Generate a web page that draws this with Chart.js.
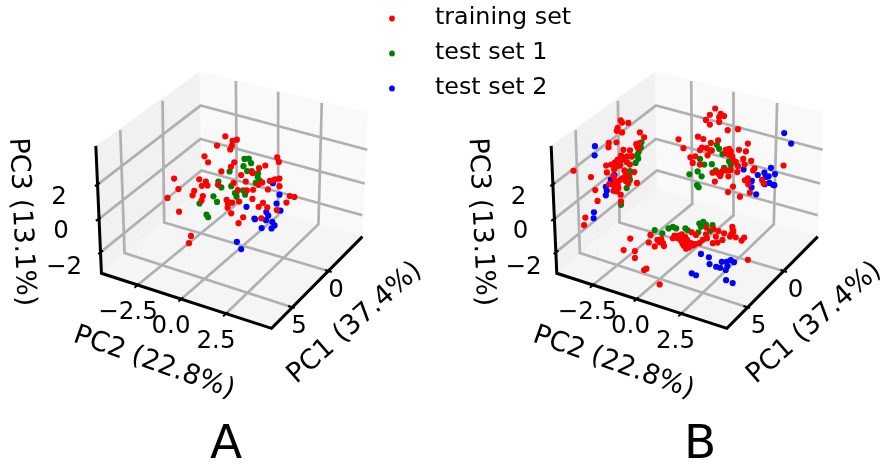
<!DOCTYPE html>
<html><head><meta charset="utf-8">
<style>html,body{margin:0;padding:0;background:#fff}canvas{display:block;filter:blur(0.5px)}</style>
<script src="https://cdn.jsdelivr.net/npm/chart.js@4"></script></head>
<body><canvas id="c" width="884" height="466"></canvas>
<script>
const seriesNames = ['training set','test set 1','test set 2'];
const seriesColors = ['#ff0000','#008000','#0000ff'];
const panelLabels = ['A','B'];
const panelLabelX = [226,700];
const tickLabelsZ = ['2','0','\u22122'];
const tickLabelsY = ['\u22122.5','0.0','2.5'];
const tickLabelsX = ['0','5'];
const axisNames = ['PC1 (37.4%)','PC2 (22.8%)','PC3 (13.1%)'];

// Panel A, crop origin (140,120)
const aTrain = [[250,44],[285,54],[272,58],[225,72],[270,72],[265,84],[187,105],[198,123],[277,123],[267,137],[238,151],[407,108],[412,122],[371,133],[352,141],[329,152],[333,156],[298,162],[95,173],[171,175],[191,182],[196,194],[179,195],[108,205],[156,210],[151,224],[75,232],[182,226],[178,240],[110,274],[228,192],[275,186],[312,182],[414,173],[401,175],[385,180],[395,178],[350,192],[362,185],[414,196],[379,206],[334,207],[315,209],[288,208],[332,235],[292,243],[271,246],[254,238],[258,250],[257,262],[268,279],[304,291],[290,309],[364,247],[351,259],[377,261],[406,269],[435,246],[445,226],[459,229],[359,294],[146,348],[140,370],[263,247]];
const aTest1 = [[308,113],[321,112],[328,126],[305,135],[316,150],[330,150],[349,157],[348,168],[355,180],[342,186],[263,151],[229,182],[238,200],[268,196],[214,227],[225,244],[172,249],[193,283],[198,291],[283,218],[279,217],[304,209],[310,222],[284,228]];
const aTest2 = [[394,187],[414,222],[405,249],[314,259],[417,271],[374,275],[380,286],[338,295],[340,297],[373,300],[392,305],[399,316],[390,325],[360,324],[285,366],[298,388]];

// Panel B left wall, crop origin (550,100)
const bLeftTrain = [[217,55],[221,62],[240,63],[208,78],[205,87],[221,92],[275,92],[288,107],[181,124],[204,122],[180,137],[272,125],[267,135],[245,147],[225,145],[74,209],[127,228],[218,163],[236,165],[250,165],[173,193],[200,183],[218,178],[236,183],[245,190],[215,193],[197,205],[175,214],[228,208],[258,213],[195,225],[232,222],[232,240],[266,246],[213,238],[205,245],[182,250],[240,248],[200,260],[195,270],[210,262],[140,268],[217,282],[147,301],[218,303],[110,352],[106,375],[208,175],[226,172],[188,190],[205,195],[240,228],[222,232],[200,240],[208,252],[196,252],[204,272],[270,140],[264,128]];
const bLeftTest1 = [[280,122],[278,138],[272,150],[252,165],[268,160],[262,185],[270,172],[245,210],[243,225],[245,237],[235,262],[218,313]];
const bLeftTest2 = [[139,134],[138,162],[198,222],[187,236],[190,250],[172,258],[175,270],[172,284],[136,336],[135,354]];

// Panel B right wall, crop origin (670,90)
const bRightTrain = [[143,49],[127,68],[160,65],[155,75],[170,72],[115,84],[127,98],[155,90],[181,115],[212,112],[32,143],[47,170],[91,135],[107,142],[152,146],[130,154],[242,156],[103,168],[97,176],[117,170],[133,177],[215,175],[236,180],[175,175],[185,172],[185,190],[195,195],[120,192],[68,198],[83,195],[75,215],[97,220],[205,212],[228,203],[252,209],[232,220],[212,225],[262,232],[258,238],[210,243],[190,237],[178,238],[165,240],[150,245],[135,245],[142,272],[158,255],[183,256],[242,262],[233,268],[285,267],[290,278],[243,280],[197,287],[248,306],[182,304],[218,318],[350,223],[190,180],[176,186],[198,208],[160,248],[170,236]];
const bRightTest1 = [[148,160],[155,172],[165,188],[128,177],[97,203],[110,220],[133,219],[65,250],[90,241],[102,256],[88,283],[93,289],[145,238],[170,230],[185,210],[190,222]];
const bRightTest2 = [[352,124],[373,156],[312,230],[229,235],[292,245],[324,249],[272,252],[296,258],[305,256],[254,270],[253,290],[293,280],[307,276],[318,282],[267,311],[322,283]];

// Panel B floor, crop origin (610,205)
const bFloorTrain = [[66,101],[46,136],[80,139],[80,160],[127,90],[122,113],[140,125],[148,105],[160,103],[165,115],[168,124],[195,100],[200,92],[212,92],[222,88],[252,82],[225,100],[230,113],[228,123],[235,132],[242,125],[238,105],[250,115],[262,118],[275,115],[285,105],[298,100],[265,90],[295,88],[297,68],[318,72],[333,78],[350,85],[325,95],[345,105],[330,113],[316,115],[375,65],[378,80],[368,95],[385,97],[403,107],[411,98],[422,166],[115,193],[108,197],[155,241],[220,108],[232,96],[244,128],[236,118],[224,116],[256,122],[210,100],[372,88],[376,74],[155,112]];
const bFloorTest1 = [[140,75],[163,85],[182,70],[195,65],[205,70],[233,70],[240,76],[272,82],[275,55],[287,50],[295,58],[280,65],[315,60],[307,78]];
const bFloorTest2 = [[280,148],[304,158],[306,179],[343,172],[358,172],[370,167],[380,173],[326,187],[338,190],[360,185],[355,197],[252,207],[265,213],[356,228],[376,237]];

// Box of the 3D axes, crop origin (80,60) for A, (539.5,60) for B
const paneLeft = [[38,253],[352,27],[358,385],[55,642]];
const paneRight = [[352,27],[862,150],[845,530],[358,385]];
const paneFloor = [[55,642],[358,385],[845,530],[570,810]];
const gridPaths = [
 [[42,372],[355,130],[860,265]],[[45,478],[355,232],[852,368]],[[52,578],[358,328],[845,465]],
 [[112,205],[125,580],[630,745]],[[240,115],[245,487],[742,635]],
 [[462,55],[465,430],[162,680]],[[590,88],[590,465],[295,722]],[[722,122],[712,492],[430,767]]];
const axisPath = [[38,253],[55,642],[570,810],[845,530]];
const tickPaths = [
 [[35,376],[50,366]],[[38,482],[53,472]],[[45,583],[60,573]],
 [[155,686],[170,674]],[[288,728],[303,716]],[[423,773],[438,761]],
 [[732,632],[752,638]],[[620,742],[640,748]]];

const at = (pts,ox,oy)=>pts.map(p=>({x:p[0]+3*ox,y:p[1]+3*oy}));
const pathsAt = (paths,ox,oy)=>{const out=[];paths.forEach(p=>{out.push(...at(p,ox,oy));out.push({x:NaN,y:NaN});});return out;};
const shape = {showLine:true,pointRadius:0,borderWidth:0,tension:0};
const datasets=[];
[[80,60],[539.5,60]].forEach(([ox,oy])=>{
  [[paneLeft,'#f1f1f1'],[paneRight,'#f9f9f9'],[paneFloor,'#f5f5f5']].forEach(([p,col])=>{
    datasets.push({...shape,data:at([...p,p[0]],ox,oy),backgroundColor:col,borderColor:col,fill:'shape',order:40});
  });
  datasets.push({...shape,data:pathsAt(gridPaths,ox,oy),borderColor:'#b0b0b0',borderWidth:2.7,order:30,spanGaps:false,fill:false});
  datasets.push({...shape,data:at(axisPath,ox,oy),borderColor:'#000',borderWidth:3,order:20,fill:false});
  datasets.push({...shape,data:pathsAt(tickPaths,ox,oy),borderColor:'#000',borderWidth:2,order:20,spanGaps:false,fill:false});
});
const scatter=(pts,ox,oy,i)=>datasets.push({label:seriesNames[i],data:at(pts,ox,oy),backgroundColor:seriesColors[i],borderWidth:0,pointRadius:3.1,order:5});
scatter(aTrain,140,120,0);scatter(aTest1,140,120,1);scatter(aTest2,140,120,2);
scatter(bLeftTrain,550,100,0);scatter(bLeftTest1,550,100,1);scatter(bLeftTest2,550,100,2);
scatter(bRightTrain,670,90,0);scatter(bRightTest1,670,90,1);scatter(bRightTest2,670,90,2);
scatter(bFloorTrain,610,205,0);scatter(bFloorTest1,610,205,1);scatter(bFloorTest2,610,205,2);

const textPlugin={id:'texts',afterDraw(chart){
  const c=chart.ctx;
  const T=(s,x,y,size,rot=0,align='center')=>{c.save();c.translate(x,y);c.rotate(rot*Math.PI/180);c.font=size+'px "DejaVu Sans"';c.fillStyle='#000';c.textAlign=align;c.textBaseline='middle';c.fillText(s,0,0);c.restore();};
  [0,459.5].forEach((dx,k)=>{
    T(tickLabelsZ[0],59+dx,198,24.5);T(tickLabelsZ[1],61+dx,232,24.5);T(tickLabelsZ[2],64+dx,268,24.5);
    T(tickLabelsY[0],128+dx,313,24.5);T(tickLabelsY[1],171+dx,327,24.5);T(tickLabelsY[2],216+dx,342,24.5);
    T(tickLabelsX[0],336+dx,291,24.5);T(tickLabelsX[1],299+dx,327,24.5);
    T(axisNames[1],154+dx,363,27.2,19.7);
    T(axisNames[0],355+dx,323,27.2,-41.4);
    T(axisNames[2],21+dx,222,27.2,87.3);
    T(panelLabels[k],panelLabelX[k],446,47);
  });
  seriesNames.forEach((s,i)=>{
    const y=[18,53,88][i];
    c.beginPath();c.arc(392,y+0.5,2.9,0,7);c.fillStyle=seriesColors[i];c.fill();
    T(s,435,y,23.8,0,'left');
  });
}};

new Chart(document.getElementById('c'),{
  type:'scatter',
  data:{datasets},
  options:{responsive:false,animation:false,events:[],layout:{padding:0},
    plugins:{legend:{display:false},tooltip:{enabled:false}},
    scales:{x:{type:'linear',display:false,min:0,max:2652},y:{type:'linear',display:false,reverse:true,min:0,max:1398}},
    clip:false},
  plugins:[textPlugin]
});
</script></body></html>
